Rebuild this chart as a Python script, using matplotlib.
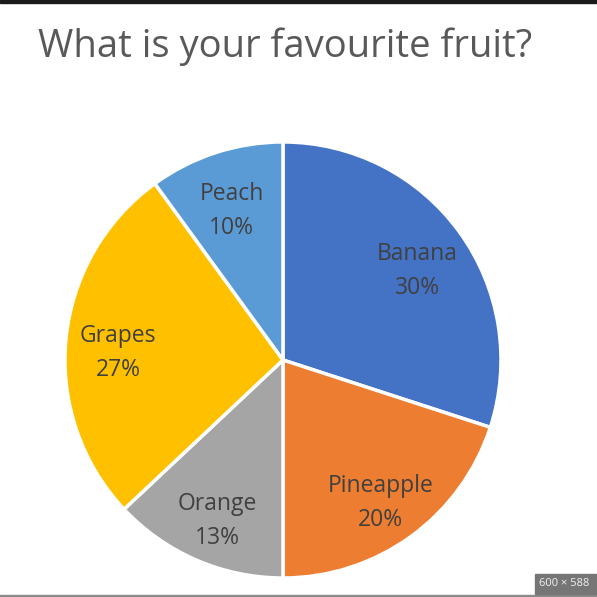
import matplotlib
matplotlib.use('Agg')
import matplotlib.pyplot as plt
import numpy as np

fruits = ['Banana', 'Pineapple', 'Orange', 'Grapes', 'Peach']
shares = [30, 20, 13, 27, 10]
colors = ['#4472C4', '#ED7D31', '#A5A5A5', '#FFC000', '#5B9BD5']

plt.rcParams['font.family'] = ['Open Sans', 'DejaVu Sans']

fig = plt.figure(figsize=(5.97, 5.97), dpi=100)

# pie centre and radius in figure fractions
cx, cy, r = 0.474, 0.397, 0.3725
ax = fig.add_axes([cx - r, cy - r, 2 * r, 2 * r])
wedges, _ = ax.pie(shares, colors=colors, startangle=90, counterclock=False,
                   radius=1, wedgeprops=dict(edgecolor='white', linewidth=2.5))
ax.set_xlim(-1.02, 1.02)
ax.set_ylim(-1.02, 1.02)
ax.set_aspect('equal')
ax.axis('off')

for w, name, s in zip(wedges, fruits, shares):
    mid = np.deg2rad((w.theta1 + w.theta2) / 2)
    d = 0.76
    ax.text(d * np.cos(mid), d * np.sin(mid) - 0.04, f'{name}\n{s}%',
            ha='center', va='center', fontsize=16.5, color='#404040',
            linespacing=1.55)

fig.text(0.064, 0.905, 'What is your favourite fruit?', fontsize=27.5,
         color='#595959', ha='left', va='baseline')

# screenshot frame bits
fig.patches.append(plt.Rectangle((0, 0.995), 1, 0.005, transform=fig.transFigure,
                                 color='#1a1a1a', zorder=5))
fig.patches.append(plt.Rectangle((0, 0), 1, 0.004, transform=fig.transFigure,
                                 color='#8a8a8a', zorder=5))
fig.patches.append(plt.Rectangle((535 / 597, 3 / 597), 62 / 597, 20 / 597,
                                 transform=fig.transFigure, color='#767676', zorder=5))
fig.text(539 / 597, 13 / 597, '600 × 588', fontsize=8, color='#f2f2f2',
         ha='left', va='center', zorder=6)

fig.savefig('out.png', dpi=100)
